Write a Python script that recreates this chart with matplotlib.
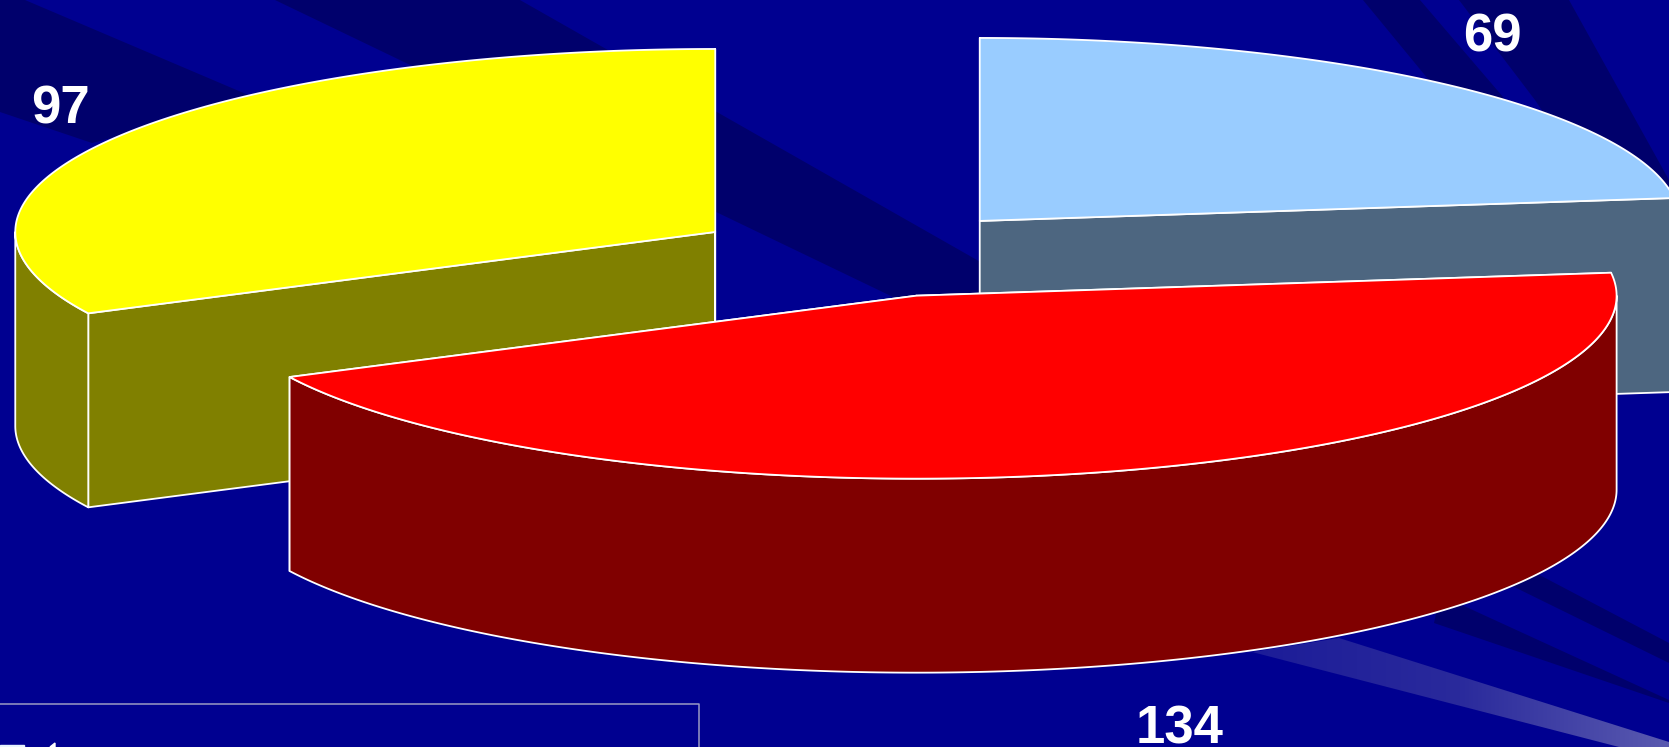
# Exploded 3D pie on the dark blue slide background
import matplotlib
matplotlib.use("Agg")
import matplotlib.pyplot as plt
from matplotlib.patches import Polygon
import numpy as np

# Data, clockwise from 12 o'clock
labels = ["69", "134", "97"]
values = [69, 134, 97]
top_colors = ["#99ccff", "#ff0000", "#ffff00"]
side_colors = ["#4d6680", "#800000", "#808000"]
explode_x = [0.25, 0.26, 0.25]
explode_y = [0.27, 0.215, 0.27]
draw_order = [2, 0, 1]

W, H = 1669, 747
cx, cy = 864, 258      # pie centre before exploding, in pixels
rx, ry = 700, 183      # ellipse radii of the tilted pie
depth = 194            # height of the pie wall
start_angle = 90
base = "#000090"
dark = "#00006c"


def arc(x0, y0, a1, a2):
    # points on the ellipse from a1 to a2 (degrees)
    t = np.radians(np.linspace(a1, a2, 240))
    return np.column_stack([x0 + rx * np.cos(t), y0 - ry * np.sin(t)])


def face(pts, color, z, lw=1.3):
    ax.add_patch(Polygon(pts, closed=True, facecolor=color, edgecolor="white",
                         linewidth=lw, joinstyle="round", zorder=z))


fig = plt.figure(figsize=(W / 100, H / 100), dpi=100, facecolor=base)
ax = fig.add_axes([0, 0, 1, 1])

# Background streaks
bands = [
    [(25, 0), (260, 100), (92, 143), (0, 112), (0, 0)],
    [(275, 0), (520, 0), (1100, 330), (1100, 395), (893, 297)],
    [(1363, 0), (1420, 0), (1527, 125), (1470, 130)],
    [(1459, 0), (1569, 0), (1669, 180), (1669, 300), (1535, 100)],
    [(1440, 595), (1669, 700), (1669, 703), (1434, 623)],
    [(1500, 580), (1669, 663), (1669, 643), (1530, 570)],
]
for b in bands:
    ax.add_patch(Polygon(b, closed=True, facecolor=dark, edgecolor="none", zorder=1))

# Light beam, lower right
beam = Polygon([(1339, 638), (1669, 742), (1669, 747), (1619, 747), (1252, 652)],
               closed=True, facecolor="none", edgecolor="none", zorder=2)
ax.add_patch(beam)
grad = np.linspace(0, 1, 256).reshape(1, -1)
cmap = matplotlib.colors.LinearSegmentedColormap.from_list("beam", ["#1c1c98", "#2a2a9c", "#5a5ab0"])
img = ax.imshow(grad, extent=[1252, 1669, 747, 638], cmap=cmap, aspect="auto", zorder=2)
img.set_clip_path(beam)
ax.set_xlim(0, W)
ax.set_ylim(H, 0)
ax.axis("off")

# Legend frame, cut off by the bottom of the slide
ax.plot([0, 699, 699], [704, 704, 747], color="#9a9ac4", linewidth=1.1, zorder=3)
ax.fill([0, 24, 24, 0], [745, 745, 747, 747], color="#e8f4ff", zorder=3)
ax.fill([50, 55, 55], [747, 743, 747], color="white", zorder=3)

# Slices
total = sum(values)
stops = start_angle - np.cumsum([0] + values) / total * 360
for z, i in enumerate(draw_order):
    a1, a2 = stops[i], stops[i + 1]
    mid = np.radians((a1 + a2) / 2)
    x0 = cx + explode_x[i] * rx * np.cos(mid)
    y0 = cy - explode_y[i] * ry * np.sin(mid)
    z = 10 + z * 5

    # flat walls along both radial edges
    for a in (a1, a2):
        edge = arc(x0, y0, a, a)[0]
        face([(x0, y0), edge, edge + [0, depth], (x0, y0 + depth)], side_colors[i], z)

    # outer wall, only the part that faces the viewer
    f1, f2 = max(a2, -180), min(a1, 0)
    if f2 > f1:
        rim = arc(x0, y0, f1, f2)
        face(np.vstack([rim, (rim + [0, depth])[::-1]]), side_colors[i], z + 1)

    # top surface
    face(np.vstack([[(x0, y0)], arc(x0, y0, a1, a2)]), top_colors[i], z + 2)

# Value labels
label_pos = [(1492, 52), (1180, 743), (60, 124)]
for lab, (lx, ly) in zip(labels, label_pos):
    ax.text(lx, ly, lab, color="white", fontsize=38, fontweight="bold",
            family="Liberation Sans", ha="center", va="baseline", zorder=40)

fig.savefig("out.png", dpi=100, facecolor=base)
